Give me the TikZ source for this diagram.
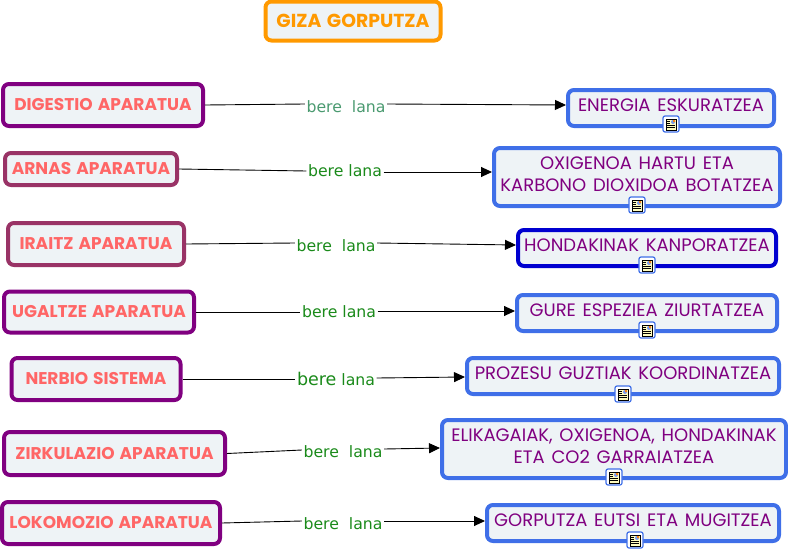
\documentclass[tikz,border=0pt]{standalone}
\usepackage{fontspec}
\setmainfont[WordSpace=1.4]{Poppins}
\newfontfamily\verdanafont{DejaVu Sans}
\usetikzlibrary{arrows.meta}
\definecolor{boxfill}{HTML}{EEF3F6}
\definecolor{sysred}{HTML}{FF6666}
\definecolor{sysborder}{HTML}{800080}
\definecolor{sysborderb}{HTML}{993366}
\definecolor{taskblue}{HTML}{3F6FE8}
\definecolor{taskdark}{HTML}{0000D0}
\definecolor{linkgreen}{HTML}{1A8A1A}
\definecolor{linkpale}{HTML}{4A9A70}
\definecolor{titleorange}{HTML}{FF9900}
\tikzset{
  conceptbox/.style={draw, fill=boxfill, rounded corners=6pt, line width=4pt, align=center, inner sep=0pt},
  titlebox/.style={conceptbox, draw=titleorange, text=titleorange, font=\fontsize{18.8}{22}\selectfont},
  sysbox/.style={conceptbox, draw=sysborder, text=sysred, font=\fontsize{17}{20}\selectfont},
  sysboxb/.style={sysbox, draw=sysborderb},
  taskbox/.style={conceptbox, draw=taskblue, text=sysborder, text depth=6pt, font=\fontsize{18}{22.5}\selectfont},
  linklabel/.style={text=linkgreen, inner sep=1.5pt, font=\verdanafont\fontsize{15.7}{16}\selectfont},
  link/.style={line width=0.9pt},
  arrowlink/.style={line width=0.9pt, -{Triangle[length=11pt,width=10pt]}},
  docicon/.style={draw=taskblue, fill=white, rounded corners=2pt, line width=1.2pt, minimum size=16pt, inner sep=0pt,
    path picture={
      \begin{scope}[shift={(path picture bounding box.center)}]
        \draw[black, fill=yellow!25, line width=0.7pt, sharp corners] (-5,-5) rectangle (5,6);
        \fill[taskblue!70] (0,-4) rectangle (4,0);
        \fill[orange] (2,-4) rectangle (4,-2);
        \draw[black, line width=0.7pt, sharp corners] (-4,-3) -- (-1,-3) (-4,-1) -- (-1,-1) (-4,1) -- (4,1) (-4,3) -- (4,3);
      \end{scope}
    }},
}
\begin{document}
\begin{tikzpicture}[x=1pt,y=-1pt]
  \useasboundingbox (0,0) rectangle (788,552);

  \node[titlebox, minimum width=175pt, minimum height=39pt] (title) at (353,21) {\bfseries GIZA GORPUTZA};

  \node[sysbox, minimum width=200pt, minimum height=42pt] (digestio) at (103,105) {\bfseries DIGESTIO APARATUA};
  \node[sysboxb, minimum width=172pt, minimum height=32pt] (arnas) at (91,169) {\bfseries ARNAS APARATUA};
  \node[sysboxb, minimum width=176pt, minimum height=42pt] (iraitz) at (96,244) {\bfseries IRAITZ APARATUA};
  \node[sysbox, minimum width=190pt, minimum height=41pt] (ugaltze) at (99,312) {\bfseries UGALTZE APARATUA};
  \node[sysbox, minimum width=169pt, minimum height=42pt] (nerbio) at (96,379) {\bfseries NERBIO SISTEMA};
  \node[sysbox, minimum width=221pt, minimum height=43pt] (zirkulazio) at (114.5,453.5) {\bfseries ZIRKULAZIO APARATUA};
  \node[sysbox, minimum width=218pt, minimum height=42pt] (lokomozio) at (111,523) {\bfseries LOKOMOZIO APARATUA};

  \node[taskbox, minimum width=206pt, minimum height=36pt] (energia) at (671,108) {ENERGIA ESKURATZEA};
  \node[taskbox, minimum width=286pt, minimum height=58pt] (oxigenoa) at (637,177) {OXIGENOA HARTU ETA\\KARBONO DIOXIDOA BOTATZEA};
  \node[taskbox, draw=taskdark, minimum width=258pt, minimum height=36pt] (hondakinak) at (647,248) {HONDAKINAK KANPORATZEA};
  \node[taskbox, minimum width=260pt, minimum height=36pt] (gure) at (647,313) {GURE ESPEZIEA ZIURTATZEA};
  \node[taskbox, minimum width=312pt, minimum height=36pt] (prozesu) at (623,376) {PROZESU GUZTIAK KOORDINATZEA};
  \node[taskbox, minimum width=344pt, minimum height=58pt] (elikagaiak) at (614,449) {ELIKAGAIAK, OXIGENOA, HONDAKINAK\\ETA CO2 GARRAIATZEA};
  \node[taskbox, minimum width=292pt, minimum height=36pt] (gorputza) at (633,523) {GORPUTZA EUTSI ETA MUGITZEA};

  \node[linklabel, text=linkpale] (laneA) at (346,107) {bere\ \ lana};
  \node[linklabel] (laneB) at (345,171) {bere lana};
  \node[linklabel] (laneC) at (336,246) {bere\ \ lana};
  \node[linklabel] (laneD) at (339,312) {bere lana};
  \node[linklabel] (laneE) at (336,379) {{\fontsize{17.5}{16}\selectfont bere} lana};
  \node[linklabel] (laneF) at (343,452) {bere\ \ lana};
  \node[linklabel] (laneG) at (343,524) {bere\ \ lana};

  \draw[link] (digestio.east) -- ([yshift=3pt]laneA.west);
  \draw[arrowlink] ([yshift=3pt]laneA.east) -- ([yshift=3pt]energia.west);
  \draw[link] (arnas.east) -- (laneB.west);
  \draw[arrowlink] ([yshift=-1pt]laneB.east) -- ([yshift=5pt]oxigenoa.west);
  \draw[link] (iraitz.east) -- ([yshift=3pt]laneC.west);
  \draw[arrowlink] ([yshift=3pt]laneC.east) -- ([yshift=3pt]hondakinak.west);
  \draw[link] (ugaltze.east) -- (laneD.west);
  \draw[arrowlink] ([yshift=1pt]laneD.east) -- ([yshift=2pt]gure.west);
  \draw[link] (nerbio.east) -- (laneE.west);
  \draw[arrowlink] ([yshift=1pt]laneE.east) -- ([yshift=-1pt]prozesu.west);
  \draw[link] (zirkulazio.east) -- ([yshift=2pt]laneF.west);
  \draw[arrowlink] ([yshift=3pt]laneF.east) -- ([yshift=1pt]elikagaiak.west);
  \draw[link] (lokomozio.east) -- ([yshift=3pt]laneG.west);
  \draw[arrowlink] ([yshift=3pt]laneG.east) -- ([yshift=2pt]gorputza.west);

  \node[docicon] (iconA) at (671,124) {};
  \node[docicon] (iconB) at (637,205) {};
  \node[docicon] (iconC) at (647,265) {};
  \node[docicon] (iconD) at (647,330) {};
  \node[docicon] (iconE) at (623,394) {};
  \node[docicon] (iconF) at (614,477) {};
  \node[docicon] (iconG) at (635,540) {};
\end{tikzpicture}
\end{document}
